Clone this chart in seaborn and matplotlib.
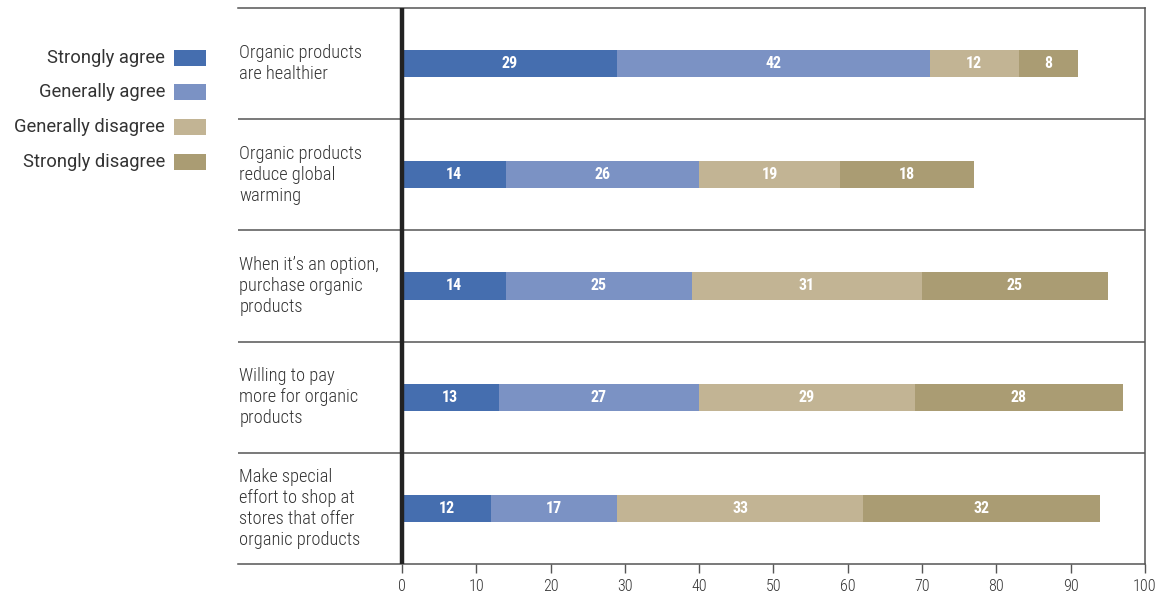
import numpy as np
import pandas as pd
import matplotlib
matplotlib.use("Agg")
import matplotlib.pyplot as plt
import seaborn as sns
from matplotlib.patches import Rectangle
from matplotlib import font_manager

# Survey statements and response shares (%)
statements = [
    "Organic products\nare healthier",
    "Organic products\nreduce global\nwarming",
    "When it\u2019s an option,\npurchase organic\nproducts",
    "Willing to pay\nmore for organic\nproducts",
    "Make special\neffort to shop at\nstores that offer\norganic products",
]
responses = ["Strongly agree", "Generally agree", "Generally disagree", "Strongly disagree"]
strongly_agree = [29, 14, 14, 13, 12]
generally_agree = [42, 26, 25, 27, 17]
generally_disagree = [12, 19, 31, 29, 33]
strongly_disagree = [8, 18, 25, 28, 32]
x_ticks = [0, 10, 20, 30, 40, 50, 60, 70, 80, 90, 100]

colors = ["#456EAF", "#7B92C4", "#C2B494", "#AA9C73"]

sns.set_theme(style="white")

# Prefer a narrow sans face
available = sorted({f.name for f in font_manager.fontManager.ttflist})
narrow = None
for cand in ["Roboto Condensed", "Liberation Sans Narrow", "DejaVu Sans Condensed",
             "Open Sans Condensed", "Liberation Sans"]:
    if cand in available:
        narrow = cand
        break
plt.rcParams["font.family"] = [narrow, "DejaVu Sans"]
legend_font = ["Roboto", "DejaVu Sans"]
text_color = "#333333"
line_color = "#555555"

series = [strongly_agree, generally_agree, generally_disagree, strongly_disagree]
values = np.array(series, dtype=float)
cum = np.cumsum(values, axis=0)

fig = plt.figure(figsize=(11.59, 5.94), dpi=100)
ax = fig.add_axes([238 / 1159, 30 / 594, (1145 - 238) / 1159, (564 - 8) / 594])

# Stacked bars: draw the running totals from the longest to the shortest
for i in reversed(range(len(responses))):
    df = pd.DataFrame({"statement": statements, "total": cum[i]})
    sns.barplot(data=df, x="total", y="statement", orient="h", color=colors[i],
                saturation=1, width=0.243, ax=ax, linewidth=0, zorder=2)

# Value labels centred in each segment
for i in range(len(responses)):
    for j in range(len(statements)):
        start = cum[i, j] - values[i, j]
        ax.text(start + values[i, j] / 2, j, f"{int(values[i, j])}", ha="center", va="center",
                color="white", fontsize=11.5, fontweight="bold", zorder=4)

x_left = -22.07
ax.set_xlim(x_left, 100)
ax.set_ylim(len(statements) - 0.5, -0.5)

# Statement labels on the left inside the frame
for j, s in enumerate(statements):
    ax.text(x_left + 0.2, j, s, ha="left", va="center", fontsize=13.2,
            fontweight="light", color=text_color, linespacing=1.22)

# Row separators
for j in range(1, len(statements)):
    ax.axhline(j - 0.5, color=line_color, lw=1.1, zorder=1)

ax.axvline(0, color="#222222", lw=3.2, zorder=3)

for side in ["top", "bottom", "right"]:
    ax.spines[side].set_visible(True)
    ax.spines[side].set_color(line_color)
    ax.spines[side].set_linewidth(1.1)
ax.spines["left"].set_visible(False)

ax.set_yticks([])
ax.set_ylabel("")
ax.set_xlabel("")
ax.set_xticks(x_ticks)
ax.set_xticklabels([str(t) for t in x_ticks], fontweight="light")
ax.tick_params(axis="x", direction="out", length=6.5, width=1.0, color=line_color,
               labelsize=11.5, labelcolor=text_color, pad=4, bottom=True)
ax.grid(False)

# Legend on the left margin
leg_y = [58, 92, 127, 162]
for lab, col, yp in zip(responses, colors, leg_y):
    fy = 1 - yp / 594
    fig.text(165 / 1159, fy, lab, ha="right", va="center", fontsize=13.2,
             family=legend_font, color=text_color)
    fig.patches.append(Rectangle((174 / 1159, fy - 8 / 594), 32 / 1159, 16 / 594,
                                 transform=fig.transFigure, facecolor=col,
                                 edgecolor="none"))

fig.savefig("out.png", dpi=100)
